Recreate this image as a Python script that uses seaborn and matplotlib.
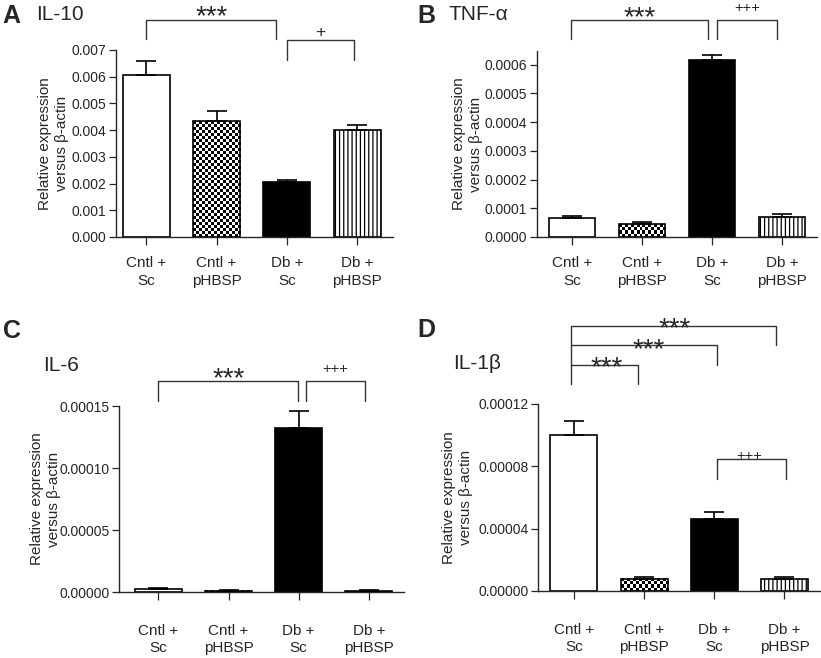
import numpy as np
import seaborn as sns
import matplotlib
matplotlib.use('Agg')
import matplotlib.pyplot as plt
import matplotlib.transforms as mtransforms

sns.set_style('ticks')
plt.rcParams['font.family'] = ['Liberation Sans', 'DejaVu Sans']
plt.rcParams['hatch.linewidth'] = 0.9

## Data
groups = ['Cntl +\nSc', 'Cntl +\npHBSP', 'Db +\nSc', 'Db +\npHBSP']
il10_mean = [0.00605, 0.00433, 0.00207, 0.00400]
il10_sem = [0.00055, 0.00037, 0.00006, 0.00020]
tnf_mean = [0.000065, 0.000045, 0.000617, 0.000070]
tnf_sem = [0.000009, 0.000008, 0.000018, 0.000010]
il6_mean = [0.0000027, 0.0000010, 0.000132, 0.0000010]
il6_sem = [0.0000004, 0.0000003, 0.000014, 0.0000003]
il1b_mean = [0.000100, 0.0000080, 0.0000465, 0.0000080]
il1b_sem = [0.0000090, 0.0000009, 0.0000045, 0.0000009]

fills = ['white', 'white', 'black', 'white']
W, H = 821, 658

fig = plt.figure(figsize=(W / 100, H / 100), dpi=100)


def px_axes(left, right, top, bottom):
    return fig.add_axes([left / W, 1 - bottom / H, (right - left) / W, (bottom - top) / H])


def bar_panel(ax, means, sems, ylim, yticks, fmt, xlim, xpad):
    sns.barplot(x=groups, y=means, hue=groups, palette=fills, legend=False,
                edgecolor='black', linewidth=1.2, width=0.67, ax=ax)
    ax.errorbar(range(len(means)), means, yerr=[np.zeros(len(sems)), sems],
                fmt='none', ecolor='black', elinewidth=1.2, capsize=7, capthick=1.2, zorder=3)
    ax.set_xlim(*xlim)
    ax.set_ylim(*ylim)
    ax.set_yticks(yticks)
    ax.set_yticklabels([fmt.format(t) for t in yticks], fontsize=10)
    ax.tick_params(axis='y', length=5, width=0.9, pad=2)
    ax.tick_params(axis='x', length=6, width=0.9, pad=xpad, labelsize=11)
    for lab in ax.get_xticklabels():
        lab.set_linespacing(1.3)
    for s in ['top', 'right']:
        ax.spines[s].set_visible(False)
    for s in ['left', 'bottom']:
        ax.spines[s].set_linewidth(1.0)
    ax.set_xlabel('')
    ax.set_ylabel('Relative expression\nversus β-actin', fontsize=11, linespacing=1.3)
    # checker texture on Cntl + pHBSP, vertical lines on Db + pHBSP
    bars = ax.patches
    p = bars[1]
    x0, y0, w, h = p.get_x(), p.get_y(), p.get_width(), p.get_height()
    (px0, py0), (px1, py1) = ax.transData.transform([(x0, y0), (x0 + w, y0 + h)])
    nx = max(int(round((px1 - px0) / 3.0)), 1)
    ny = max(int(round((py1 - py0) / 3.0)), 1)
    checker = np.indices((ny, nx)).sum(axis=0) % 2
    ax.imshow(checker, cmap='gray', extent=[x0, x0 + w, y0, y0 + h], aspect='auto',
              interpolation='nearest', zorder=0.9)
    p.set_facecolor('none')
    p.set_zorder(1.5)
    bars[3].set_hatch('||||')
    ax.set_xlim(*xlim)
    ax.set_ylim(*ylim)


def bracket(ax, x1, x2, ytop, ybot_left, ybot_right, text, tx, ty, fs=20):
    # ty is the centre of the glyphs in axes fraction; shift to baseline
    tr = mtransforms.blended_transform_factory(ax.transData, ax.transAxes)
    ax.plot([x1, x1, x2, x2], [ybot_left, ytop, ytop, ybot_right], color='#333333',
            lw=1.0, transform=tr, clip_on=False)
    shift = 0.55 if text.startswith('*') else 0.35
    ttr = mtransforms.offset_copy(tr, fig=fig, y=-shift * fs, units='points')
    ax.text(tx, ty, text, transform=ttr, ha='center', va='baseline', fontsize=fs)


# A: IL-10
axA = px_axes(116, 393, 50, 237)
bar_panel(axA, il10_mean, il10_sem, (0, 0.007), np.arange(0, 0.0071, 0.001), '{:.3f}',
          (-0.43, 3.51), 8)
axA.yaxis.set_label_coords(-0.17, 0.5)
bracket(axA, 0, 1.85, 1.160, 1.059, 1.059, '***', 0.93, 1.222)
bracket(axA, 2.0, 2.96, 1.053, 0.947, 0.947, '+', 2.48, 1.10, fs=12.5)

# B: TNF-alpha
axB = px_axes(537, 817, 51, 237)
bar_panel(axB, tnf_mean, tnf_sem, (0, 0.000648), np.arange(0, 0.00061, 0.0001), '{:.4f}',
          (-0.5, 3.5), 8)
axB.yaxis.set_label_coords(-0.193, 0.5)
bracket(axB, -0.01, 1.94, 1.167, 1.065, 1.065, '***', 0.96, 1.22)
bracket(axB, 2.07, 2.93, 1.167, 1.065, 1.065, '+++', 2.5, 1.237, fs=10.5)

# C: IL-6
axC = px_axes(119, 404, 406, 592)
bar_panel(axC, il6_mean, il6_sem, (0, 0.00015), np.arange(0, 0.000151, 0.00005), '{:.5f}',
          (-0.56, 3.5), 17)
axC.yaxis.set_label_coords(-0.204, 0.5)
bracket(axC, 0, 1.99, 1.134, 1.027, 1.027, '***', 1.0, 1.19)
bracket(axC, 2.11, 2.94, 1.134, 1.027, 1.027, '+++', 2.52, 1.204, fs=10.5)

# D: IL-1beta
axD = px_axes(538, 821, 404, 591)
bar_panel(axD, il1b_mean, il1b_sem, (0, 0.00012), np.arange(0, 0.000121, 0.00004), '{:.5f}',
          (-0.51, 3.52), 17)
axD.yaxis.set_label_coords(-0.229, 0.5)
bracket(axD, -0.04, 2.88, 1.417, 1.107, 1.316, '***', 1.43, 1.444)
bracket(axD, -0.04, 2.04, 1.316, 1.316, 1.209, '***', 1.06, 1.33)
bracket(axD, -0.04, 0.92, 1.209, 1.209, 1.107, '***', 0.47, 1.235)
bracket(axD, 2.04, 3.02, 0.706, 0.599, 0.599, '+++', 2.5, 0.727, fs=10.5)

# panel letters and titles
for letter, lx, ly, title, tx, ty in [('A', 2, 23, 'IL-10', 36, 20),
                                       ('B', 417, 23, 'TNF-α', 448, 20),
                                       ('C', 3, 338, 'IL-6', 43, 371),
                                       ('D', 417, 337, 'IL-1β', 453, 369)]:
    fig.text(lx / W, 1 - ly / H, letter, fontsize=18, fontweight='bold', va='baseline', ha='left')
    fig.text(tx / W, 1 - ty / H, title, fontsize=15, va='baseline', ha='left')

fig.savefig('out.png', dpi=100)
